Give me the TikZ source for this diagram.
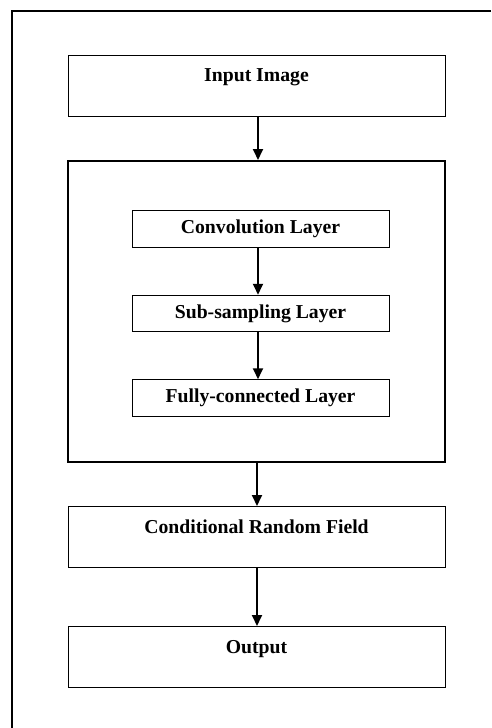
\documentclass[tikz,border=0pt]{standalone}
\usepackage{fontspec}
\setmainfont{Liberation Serif}
\usetikzlibrary{arrows.meta}
\tikzset{
  stage/.style={draw, line width=1pt, minimum width=377pt, minimum height=61pt, inner sep=0pt},
  layer/.style={draw, line width=1pt, minimum width=257pt, minimum height=36.5pt, inner sep=0pt, font=\fontsize{19.7}{22}\selectfont\bfseries},
  toplabel/.style={label={[anchor=base, yshift=-27.3pt, inner sep=0pt, font=\fontsize{19.7}{22}\selectfont\bfseries]90:#1}},
  flow/.style={->, line width=1.8pt}
}
\begin{document}
\begin{tikzpicture}[x=1pt, y=-1pt, >={Triangle[length=11pt,width=10pt]}]
\useasboundingbox (0,0) rectangle (491,728);
\draw[line width=2pt](491,11)--(12,11)--(12,728);
\node[stage, toplabel={Input Image}](inp) at (256.5,85.5){};
\node[draw, line width=2pt, minimum width=377pt, minimum height=301pt, inner sep=0pt](cnn) at (256.5,311.5){};
\node[layer](conv) at (260.5,229){Convolution Layer};
\node[layer](sub) at (260.5,313.5){Sub-sampling Layer};
\node[layer](fc) at (260.5,398){Fully-connected Layer};
\node[stage, toplabel={Conditional Random Field}](crf) at (256.5,537){};
\node[stage, toplabel={Output}](out) at (256.5,657){};
\draw[flow]([xshift=1.5pt]inp.south)--([xshift=1.5pt]cnn.north);
\draw[flow]([xshift=-2.5pt]conv.south)--([xshift=-2.5pt]sub.north);
\draw[flow]([xshift=-2.5pt]sub.south)--([xshift=-2.5pt]fc.north);
\draw[flow]([xshift=0.5pt]cnn.south)--([xshift=0.5pt]crf.north);
\draw[flow]([xshift=0.5pt]crf.south)--([xshift=0.5pt]out.north);
\end{tikzpicture}
\end{document}
